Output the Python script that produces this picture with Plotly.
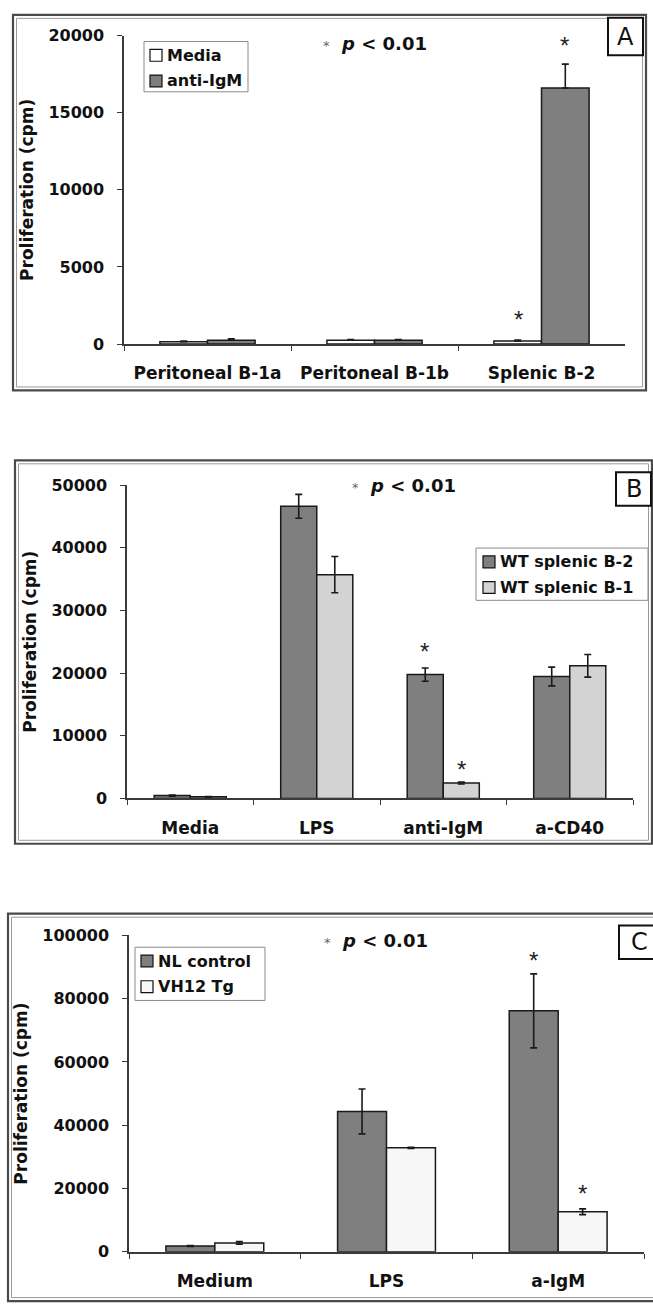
import plotly.graph_objects as go

W, H = 653, 1313
def px(x):
    return x / W
def py(y):
    return 1 - y / H

# ---------------- Data ----------------
# Panel A
a_categories = ["Peritoneal B-1a", "Peritoneal B-1b", "Splenic B-2"]
a_series = ["Media", "anti-IgM"]
a_media = [150, 250, 200]
a_media_err = [40, 40, 60]
a_antiigm = [255, 250, 16600]
a_antiigm_err = [90, 50, 1550]
a_star_cats = ["Splenic B-2", "Splenic B-2"]
a_star_series = [0, 1]
a_star_y = [1600, 19350]
a_ticks = [0, 5000, 10000, 15000, 20000]

# Panel B
b_categories = ["Media", "LPS", "anti-IgM", "a-CD40"]
b_series = ["WT splenic B-2", "WT splenic B-1"]
b_b2 = [450, 46600, 19750, 19450]
b_b2_err = [80, 1900, 1050, 1500]
b_b1 = [250, 35700, 2450, 21150]
b_b1_err = [60, 2900, 150, 1800]
b_star_cats = ["anti-IgM", "anti-IgM"]
b_star_series = [0, 1]
b_star_y = [23400, 4600]
b_ticks = [0, 10000, 20000, 30000, 40000, 50000]

# Panel C
c_categories = ["Medium", "LPS", "a-IgM"]
c_series = ["NL control", "VH12 Tg"]
c_nl = [1850, 44350, 76150]
c_nl_err = [150, 7100, 11700]
c_vh12 = [2800, 32850, 12650]
c_vh12_err = [400, 200, 900]
c_star_cats = ["a-IgM", "a-IgM"]
c_star_series = [0, 1]
c_star_y = [92000, 18300]
c_ticks = [0, 20000, 40000, 60000, 80000, 100000]

FONT = "DejaVu Sans"
DARK = "#7f7f7f"
LIGHT_B = "#d3d3d3"
WHITE = "#ffffff"
OFFWHITE = "#f7f7f7"
LINE = "#1a1a1a"
AXC = "#3a3a3a"

# panel geometry in pixels
geo = {
    "A": dict(x0=124, x1=625, ytop=27, yzero=340, gap=0.44),
    "B": dict(x0=127, x1=633, ytop=483, yzero=801, gap=0.42),
    "C": dict(x0=129, x1=644, ytop=940, yzero=1261, gap=0.43),
}

fig = go.Figure()

def add_bar(name, cats, vals, err, color, xa, ya, plus_only=False):
    ey = dict(type="data", array=err, visible=True, color=LINE, thickness=1.6, width=3.5)
    if plus_only:
        ey["symmetric"] = False
        ey["arrayminus"] = [0] * len(err)
    fig.add_trace(go.Bar(
        name=name, x=cats, y=vals, xaxis=xa, yaxis=ya, showlegend=False,
        marker=dict(color=color, line=dict(color=LINE, width=1.5)),
        error_y=ey,
    ))

add_bar(a_series[0], a_categories, a_media, a_media_err, WHITE, "x", "y", True)
add_bar(a_series[1], a_categories, a_antiigm, a_antiigm_err, DARK, "x", "y", True)
add_bar(b_series[0], b_categories, b_b2, b_b2_err, DARK, "x2", "y2")
add_bar(b_series[1], b_categories, b_b1, b_b1_err, LIGHT_B, "x2", "y2")
add_bar(c_series[0], c_categories, c_nl, c_nl_err, DARK, "x3", "y3")
add_bar(c_series[1], c_categories, c_vh12, c_vh12_err, OFFWHITE, "x3", "y3")

tickfont = dict(family=FONT, size=16, color="#111", weight="bold")
cattickfont = dict(family=FONT, size=17, color="#111", weight="bold")
titlefont = dict(family=FONT, size=17, color="#111", weight="bold")

def axes(key, xname, yname, ticks, title_standoff):
    g = geo[key]
    xaxis = dict(
        domain=[px(g["x0"]), px(g["x1"])], anchor=yname.replace("axis", ""),
        type="category", showline=True, linecolor=AXC, linewidth=1.5,
        ticks="outside", tickson="boundaries", ticklen=5, tickcolor=AXC, tickwidth=1.2,
        tickfont=cattickfont, ticklabelstandoff=13, showgrid=False, zeroline=False,
    )
    yaxis = dict(
        domain=[py(g["yzero"]), py(g["ytop"])], anchor=xname.replace("axis", ""),
        range=[0, ticks[-1]], tickvals=ticks, ticktext=[str(t) for t in ticks],
        showline=True, linecolor=AXC, linewidth=1.5,
        ticks="outside", ticklen=5, tickcolor=AXC, tickwidth=1.2,
        tickfont=tickfont, ticklabelstandoff=10, showgrid=False, zeroline=False,
        title=dict(text="Proliferation (cpm)", font=titlefont, standoff=title_standoff),
    )
    return xaxis, yaxis

xa, ya = axes("A", "xaxis", "yaxis", a_ticks, 10)
xb, yb = axes("B", "xaxis2", "yaxis2", b_ticks, 10)
xc, yc = axes("C", "xaxis3", "yaxis3", c_ticks, 10)

shapes = []
annotations = []

def frame(x0, y0, x1, y1):
    shapes.append(dict(type="rect", xref="paper", yref="paper", x0=px(x0), x1=px(x1),
                       y0=py(y0), y1=py(y1), line=dict(color="#4a4a4a", width=2.2)))
    shapes.append(dict(type="rect", xref="paper", yref="paper", x0=px(x0 + 3.5), x1=px(x1 - 3.5),
                       y0=py(y0 + 3.5), y1=py(y1 - 3.5), line=dict(color="#9a9a9a", width=1)))

def letter_box(x0, y0, x1, y1, letter):
    shapes.append(dict(type="rect", xref="paper", yref="paper", x0=px(x0), x1=px(x1),
                       y0=py(y0), y1=py(y1), line=dict(color="#111", width=2),
                       fillcolor="#ffffff"))
    annotations.append(dict(text=letter, xref="paper", yref="paper", x=px((x0 + x1) / 2),
                            y=py((y0 + y1) / 2), showarrow=False, xanchor="center", yanchor="middle",
                            font=dict(family=FONT, size=24, color="#111")))

def legend_box(x0, y0, x1, y1, names, colors, textx):
    shapes.append(dict(type="rect", xref="paper", yref="paper", x0=px(x0), x1=px(x1),
                       y0=py(y0), y1=py(y1), line=dict(color="#8a8a8a", width=1),
                       fillcolor="#ffffff"))
    for i, (n, c) in enumerate(zip(names, colors)):
        cy = y0 + 14 + 26 * i
        shapes.append(dict(type="rect", xref="paper", yref="paper",
                           x0=px(textx - 17), x1=px(textx - 5), y0=py(cy + 6), y1=py(cy - 6),
                           line=dict(color="#111", width=1.2), fillcolor=c))
        annotations.append(dict(text=n, xref="paper", yref="paper", x=px(textx - 2), y=py(cy),
                                xanchor="left", yanchor="middle", showarrow=False,
                                font=dict(family=FONT, size=16, color="#111", weight="bold")))

frame(13, 6, 646, 387)
frame(15, 458, 652, 847)
frame(8, 918, 660, 1311)
letter_box(608, 9, 643, 47, "A")
letter_box(616, 470, 651, 504, "B")
letter_box(619, 930, 660, 964, "C")
legend_box(144, 33, 248, 84, a_series, [WHITE, DARK], 167)
legend_box(476, 547, 648, 600, b_series, [DARK, LIGHT_B], 500)
legend_box(135, 952, 265, 1006, c_series, [DARK, OFFWHITE], 158)

def ptext(x, y):
    annotations.append(dict(
        text='<span style="font-size:13px;color:#666;font-weight:normal">*</span>  <i>p</i> &lt; 0.01',
        xref="paper", yref="paper", x=px(x), y=py(y), xanchor="left", yanchor="middle",
        showarrow=False, font=dict(family=FONT, size=18, color="#111", weight="bold")))

ptext(321, 35)
ptext(350, 483)
ptext(322, 945)

def stars(key, xr, yr, cats, series, yv, ncat):
    g = geo[key]
    catw = (g["x1"] - g["x0"]) / ncat
    barw = catw * (1 - g["gap"]) / 2
    for c, s, v in zip(cats, series, yv):
        annotations.append(dict(text="*", xref=xr, yref=yr, x=c, y=v,
                                xshift=(-barw / 2 if s == 0 else barw / 2),
                                showarrow=False, xanchor="center", yanchor="middle",
                                font=dict(family="Liberation Sans", size=24, color="#222")))

stars("A", "x", "y", a_star_cats, a_star_series, a_star_y, len(a_categories))
stars("B", "x2", "y2", b_star_cats, b_star_series, b_star_y, len(b_categories))
stars("C", "x3", "y3", c_star_cats, c_star_series, c_star_y, len(c_categories))

fig.update_layout(
    width=W, height=H, margin=dict(l=0, r=0, t=0, b=0),
    paper_bgcolor="#ffffff", plot_bgcolor="#ffffff",
    barmode="group", bargap=0.43, bargroupgap=0,
    xaxis=xa, yaxis=ya, xaxis2=xb, yaxis2=yb, xaxis3=xc, yaxis3=yc,
    showlegend=False,
    shapes=shapes, annotations=annotations,
    font=dict(family=FONT, color="#111"),
)

fig.write_html(
    "out.html",
    config={"displayModeBar": False},
    post_script="document.body.style.margin='0';document.body.style.padding='0';"
                "document.documentElement.style.overflow='hidden';",
)
